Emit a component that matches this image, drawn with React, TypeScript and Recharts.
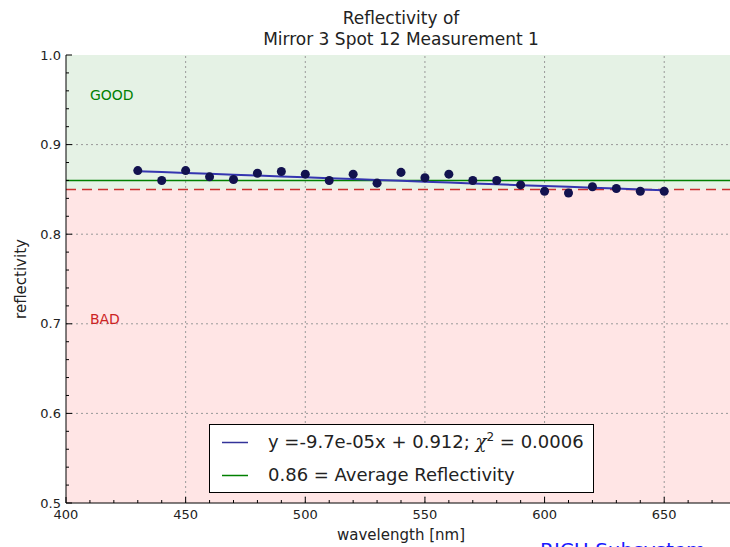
import {
  ComposedChart,
  Line,
  Scatter,
  XAxis,
  YAxis,
  ReferenceArea,
  ReferenceLine,
  ReferenceDot,
  Legend,
} from "recharts";

// measured reflectivity per wavelength (nm)
const WAVELENGTHS = [
  430, 440, 450, 460, 470, 480, 490, 500, 510, 520, 530, 540, 550, 560, 570,
  580, 590, 600, 610, 620, 630, 640, 650,
];
const REFLECTIVITY = [
  0.871, 0.86, 0.871, 0.864, 0.861, 0.868, 0.87, 0.867, 0.86, 0.867, 0.857,
  0.869, 0.863, 0.867, 0.86, 0.86, 0.855, 0.848, 0.846, 0.853, 0.851, 0.848,
  0.848,
];

// linear fit and reference levels
const FIT_SLOPE = -9.7e-5;
const FIT_INTERCEPT = 0.912;
const FIT_CHI2 = "0.0006";
const AVG_REFLECTIVITY = 0.86;
const THRESHOLD = 0.85;

const X_DOMAIN: [number, number] = [400, 680];
const Y_DOMAIN: [number, number] = [0.5, 1.0];
const X_MAJOR = [400, 450, 500, 550, 600, 650];
const Y_MAJOR = [0.5, 0.6, 0.7, 0.8, 0.9, 1.0];
const X_MINOR_STEP = 10;
const Y_MINOR_STEP = 0.02;

const X_TICKS = Array.from(
  { length: (X_DOMAIN[1] - X_DOMAIN[0]) / X_MINOR_STEP + 1 },
  (_, i) => X_DOMAIN[0] + i * X_MINOR_STEP
);
const Y_TICKS = Array.from(
  { length: Math.round((Y_DOMAIN[1] - Y_DOMAIN[0]) / Y_MINOR_STEP) + 1 },
  (_, i) => Math.round((Y_DOMAIN[0] + i * Y_MINOR_STEP) * 100) / 100
);

const rows = WAVELENGTHS.map((wl, i) => ({
  wl,
  r: REFLECTIVITY[i],
  fit: FIT_SLOPE * wl + FIT_INTERCEPT,
}));

const FONT = '"DejaVu Sans", sans-serif';
const TEXT = "#222";
const GRID = "#999";
const CHART_W = 760;
const CHART_H = 547;

const isMajorX = (v: number) => X_MAJOR.includes(v);
const isMajorY = (v: number) =>
  Y_MAJOR.some((m) => Math.abs(m - v) < 1e-6);

function XTick(props: any) {
  const { x, y, payload, side } = props;
  const major = isMajorX(payload.value);
  const len = major ? 6 : 3;
  if (side === "top") {
    return <line x1={x} x2={x} y1={y} y2={y + len} stroke="#000" />;
  }
  return (
    <g>
      <line x1={x} x2={x} y1={y} y2={y - len} stroke="#000" />
      {major && (
        <text
          x={x}
          y={y + 16}
          textAnchor="middle"
          fontFamily={FONT}
          fontSize={13}
          fill={TEXT}
        >
          {payload.value}
        </text>
      )}
    </g>
  );
}

function YTick(props: any) {
  const { x, y, payload } = props;
  const major = isMajorY(payload.value);
  const len = major ? 6 : 3;
  return (
    <g>
      <line x1={x} x2={x + len} y1={y} y2={y} stroke="#000" />
      {major && (
        <text
          x={x - 5}
          y={y}
          dy="0.36em"
          textAnchor="end"
          fontFamily={FONT}
          fontSize={13}
          fill={TEXT}
        >
          {payload.value.toFixed(1)}
        </text>
      )}
    </g>
  );
}

function YLabel(props: any) {
  const { viewBox } = props;
  const cx = viewBox.x + 21;
  const cy = viewBox.y + viewBox.height / 2;
  return (
    <text
      x={cx}
      y={cy}
      transform={`rotate(-90, ${cx}, ${cy})`}
      textAnchor="middle"
      dominantBaseline="central"
      fontFamily={FONT}
      fontSize={15}
      fill={TEXT}
    >
      reflectivity
    </text>
  );
}

function ZoneText(color: string, text: string) {
  return (p: any) => (
    <text x={p.cx} y={p.cy} fontFamily={FONT} fontSize={14} fill={color}>
      {text}
    </text>
  );
}

function LegendBox() {
  return (
    <svg width={385} height={69} style={{ display: "block" }}>
      <rect x={0.5} y={0.5} width={384} height={68} fill="#fff" stroke="#000" />
      <line x1={13} x2={39} y1={18.5} y2={18.5} stroke="#333399" strokeWidth={1.5} />
      <text x={59} y={24} fontFamily={FONT} fontSize={18} fill={TEXT}>
        {`y =${FIT_SLOPE.toExponential(1).replace("e-5", "e-05")}x + ${FIT_INTERCEPT}; `}
        <tspan fontFamily='"DejaVu Serif", serif' fontStyle="italic">
          χ
        </tspan>
        <tspan fontSize={12} dy={-7}>
          2
        </tspan>
        <tspan dy={7}>{` = ${FIT_CHI2}`}</tspan>
      </text>
      <line x1={13} x2={39} y1={51.5} y2={51.5} stroke="green" strokeWidth={1.5} />
      <text x={59} y={57} fontFamily={FONT} fontSize={18} fill={TEXT}>
        {`${AVG_REFLECTIVITY} = Average Reflectivity`}
      </text>
    </svg>
  );
}

export default function App() {
  return (
    <div
      style={{
        position: "fixed",
        left: 0,
        top: 0,
        width: 730,
        height: 547,
        overflow: "hidden",
        background: "#fff",
      }}
    >
      <ComposedChart
        width={CHART_W}
        height={CHART_H}
        data={rows}
        margin={{ top: 55, right: CHART_W - 736, left: 0, bottom: 0 }}
      >
        <ReferenceArea
          y1={THRESHOLD}
          y2={Y_DOMAIN[1]}
          fill="green"
          fillOpacity={0.1}
          stroke="none"
        />
        <ReferenceArea
          y1={Y_DOMAIN[0]}
          y2={THRESHOLD}
          fill="red"
          fillOpacity={0.1}
          stroke="none"
        />
        {X_MAJOR.slice(1).map((v) => (
          <ReferenceLine
            key={`gx${v}`}
            x={v}
            stroke={GRID}
            strokeDasharray="2 3"
          />
        ))}
        {Y_MAJOR.slice(1, -1).map((v) => (
          <ReferenceLine
            key={`gy${v}`}
            y={v}
            stroke={GRID}
            strokeDasharray="2 3"
          />
        ))}
        <XAxis
          dataKey="wl"
          type="number"
          domain={X_DOMAIN}
          ticks={X_TICKS}
          interval={0}
          height={44}
          tickSize={0}
          tickMargin={0}
          tickLine={false}
          axisLine={{ stroke: "#000" }}
          allowDataOverflow
          tick={(p: any) => <XTick {...p} side="bottom" />}
          label={{
            value: "wavelength [nm]",
            position: "insideBottom",
            offset: 7,
            fontFamily: FONT,
            fontSize: 15,
            fill: TEXT,
          }}
        />
        <XAxis
          xAxisId="top"
          orientation="top"
          type="number"
          domain={X_DOMAIN}
          ticks={X_TICKS}
          interval={0}
          height={0}
          tickSize={0}
          tickMargin={0}
          tickLine={false}
          axisLine={{ stroke: "#000" }}
          allowDataOverflow
          tick={(p: any) => <XTick {...p} side="top" />}
        />
        <YAxis
          type="number"
          domain={Y_DOMAIN}
          ticks={Y_TICKS}
          interval={0}
          width={66}
          tickSize={0}
          tickMargin={0}
          tickLine={false}
          axisLine={{ stroke: "#000" }}
          allowDataOverflow
          tick={YTick}
          label={{ content: YLabel }}
        />
        <ReferenceLine
          y={THRESHOLD}
          stroke="#cc3030"
          strokeWidth={1.5}
          strokeDasharray="10 6"
        />
        <ReferenceLine y={AVG_REFLECTIVITY} stroke="green" strokeWidth={1.5} />
        <ReferenceDot x={410} y={0.95} r={0} shape={ZoneText("green", "GOOD")} />
        <ReferenceDot x={410} y={0.7} r={0} shape={ZoneText("#cc2222", "BAD")} />
        <Line
          dataKey="fit"
          stroke="#3535b0"
          strokeWidth={2}
          dot={false}
          activeDot={false}
          isAnimationActive={false}
        />
        <Scatter dataKey="r" fill="#12124f" isAnimationActive={false} />
        <Legend
          layout="vertical"
          align="center"
          verticalAlign="middle"
          wrapperStyle={{ left: 209, top: 424, width: 385, height: 69 }}
          content={() => <LegendBox />}
        />
      </ComposedChart>
      <svg
        width={730}
        height={547}
        style={{ position: "absolute", left: 0, top: 0, pointerEvents: "none" }}
      >
        <text x={401} y={24} textAnchor="middle" fontFamily={FONT} fontSize={17} fill={TEXT}>
          Reflectivity of
        </text>
        <text x={401} y={45} textAnchor="middle" fontFamily={FONT} fontSize={17} fill={TEXT}>
          Mirror 3 Spot 12 Measurement 1
        </text>
        <text x={540} y={557} fontFamily={FONT} fontSize={20} fill="#1a1aff">
          RICH Subsystem
        </text>
      </svg>
    </div>
  );
}
